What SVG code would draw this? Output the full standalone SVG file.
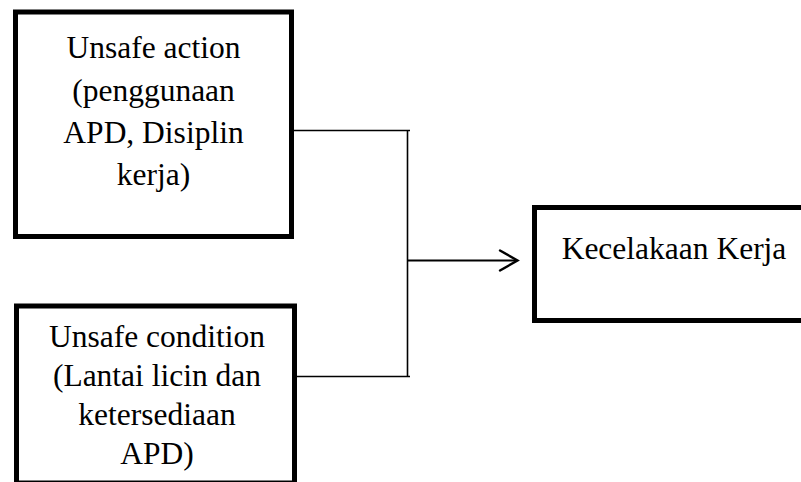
<svg xmlns="http://www.w3.org/2000/svg" width="801" height="482" viewBox="0 0 801 482">
<style>
.box{fill:#fff;stroke:#000;stroke-width:5}
.t{font-family:"Liberation Serif","Times New Roman",serif;font-size:31.5px;fill:#000;text-anchor:middle}
.c{fill:none;stroke:#000;stroke-width:1.6}
.ah{fill:none;stroke:#000;stroke-width:2.4;stroke-linecap:round;stroke-linejoin:miter}
</style>
<rect width="801" height="482" fill="#fff"/>
<g id="connectors">
<line class="c" x1="294" y1="130.5" x2="410" y2="130.5"/>
<line class="c" x1="297" y1="376.5" x2="410" y2="376.5"/>
<line class="c" x1="407.5" y1="130" x2="407.5" y2="377"/>
<line class="c" x1="407" y1="260.5" x2="517" y2="260.5" style="stroke-width:2"/>
<polyline class="ah" points="500,250.5 517.5,260.5 500,270.5"/>
</g>
<g id="unsafe-action">
<rect class="box" x="15.5" y="12" width="276" height="224.5"/>
<text class="t" x="153.5" y="58">Unsafe action</text>
<text class="t" x="153.5" y="100.5">(penggunaan</text>
<text class="t" x="153.5" y="142.5">APD, Disiplin</text>
<text class="t" x="153.5" y="185">kerja)</text>
</g>
<g id="unsafe-condition">
<rect class="box" x="16.5" y="306" width="278" height="177"/>
<text class="t" x="157" y="346.5">Unsafe condition</text>
<text class="t" x="157" y="385.5">(Lantai licin dan</text>
<text class="t" x="157" y="424.5">ketersediaan</text>
<text class="t" x="157" y="463.5">APD)</text>
</g>
<g id="kecelakaan-kerja">
<rect class="box" x="534.5" y="207.5" width="300" height="113"/>
<text class="t" x="674" y="259">Kecelakaan Kerja</text>
</g>
</svg>
